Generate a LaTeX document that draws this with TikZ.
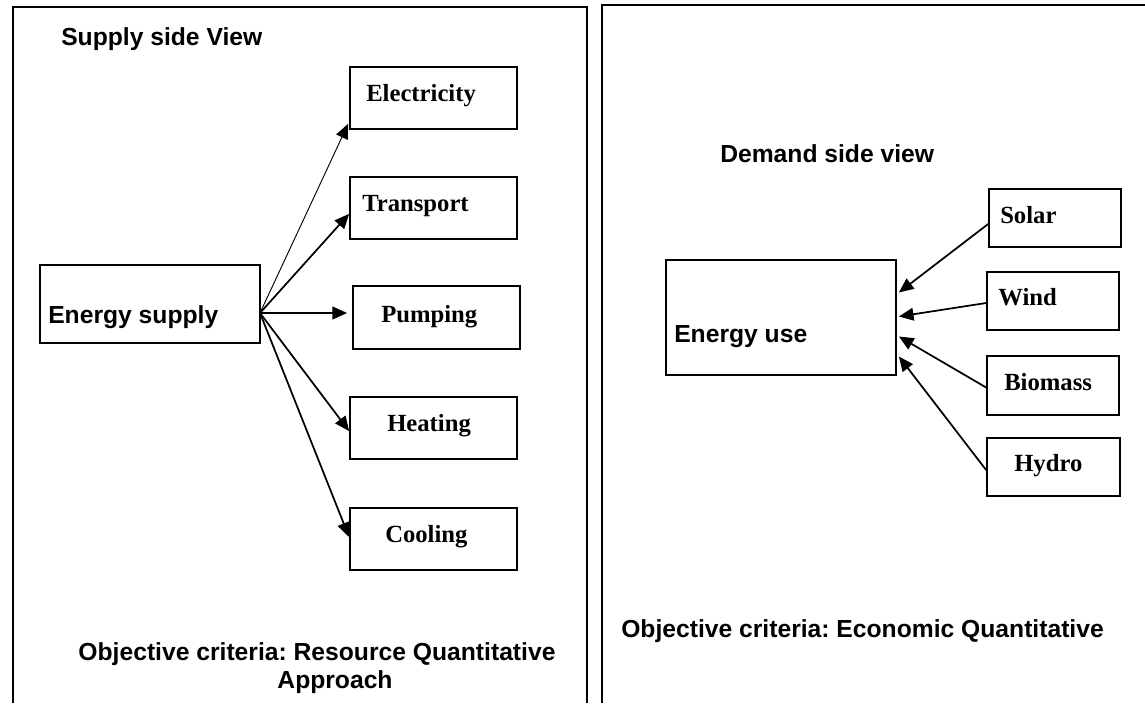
\documentclass[tikz,border=0pt]{standalone}
\usepackage{fontspec}
\setmainfont{Liberation Serif}
\newfontfamily\headfont{Liberation Sans}
\usetikzlibrary{arrows.meta,calc,fit}
\frenchspacing

\begin{document}
\begin{tikzpicture}[x=0.75pt,y=-0.75pt,
  box/.style={draw,line width=1.3pt,inner sep=0pt},
  boxtext/.style={font=\bfseries\fontsize{18.5}{22}\selectfont,inner sep=0pt,anchor=base west},
  headtext/.style={font=\headfont\bfseries\fontsize{18.5}{22}\selectfont,inner sep=0pt,anchor=base west},
  frame/.style={line width=1.3pt},
  arr/.style={line width=1.3pt,-{Triangle[length=11pt,width=9.5pt]}},
  thinarr/.style={line width=0.7pt,-{Triangle[length=11pt,width=9.5pt]}}]

\useasboundingbox (0,0) rectangle (1145,703);

% panel frames
\draw[frame] (13,703) -- (13,7) -- (587,7) -- (587,703);
\draw[frame] (602,703) -- (602,5) -- (1145,5);

% ---------- supply side ----------
\node[headtext] (suptitle) at (61,45) {Supply side View};

\node[box,fit={(40,265) (260,343)}] (es) {};
\node[headtext] (estext) at (48,323) {Energy supply};
\coordinate (src) at (260,313);

\node[box,fit={(350,67) (517,129)}]  (elec) {};
\node[box,fit={(350,177) (517,239)}] (trans) {};
\node[box,fit={(353,286) (520,349)}] (pump) {};
\node[box,fit={(350,397) (517,459)}] (heat) {};
\node[box,fit={(350,508) (517,570)}] (cool) {};

\node[boxtext] (electext)  at (366,101) {Electricity};
\node[boxtext] (transtext) at (362,211) {Transport};
\node[boxtext] (pumptext)  at (381,322) {Pumping};
\node[boxtext] (heattext)  at (387,431) {Heating};
\node[boxtext] (cooltext)  at (385,542) {Cooling};

\draw[thinarr] (src) -- ($(elec.south west)+(-1,-6)$);
\draw[arr] (src) -- ($(trans.south west)+(0,-26)$);
\draw[arr] (src) -- ($(pump.west |- src)+(-5,0)$);
\draw[arr] (src) -- ($(heat.north west)+(0,35)$);
\draw[arr] (src) -- ($(cool.north west)+(0,30)$);

\node[headtext,anchor=base] (supcrit1) at (317,660) {Objective criteria: Resource Quantitative};
\node[headtext,anchor=base] (supcrit2) at (335,688) {Approach};

% ---------- demand side ----------
\node[headtext] (demtitle) at (720,162) {Demand side view};

\node[box,fit={(666,260) (896,375)}] (eu) {};
\node[headtext] (eutext) at (674,342) {Energy use};

\node[box,fit={(989,189) (1121,247)}]  (solar) {};
\node[box,fit={(987,272) (1119,330)}]  (wind) {};
\node[box,fit={(987,356) (1119,415)}]  (bio) {};
\node[box,fit={(987,438) (1120,496)}]  (hydro) {};

\node[boxtext] (solartext) at (1000,223) {Solar};
\node[boxtext] (windtext)  at (998,305)  {Wind};
\node[boxtext] (biotext)   at (1004,390) {Biomass};
\node[boxtext] (hydrotext) at (1014,471) {Hydro};

\draw[arr] ($(solar.west)+(0,6)$) -- ($(eu.east)+(2,-25)$);
\draw[arr] ($(wind.west)+(0,2)$)  -- ($(eu.east)+(2,-1)$);
\draw[arr] ($(bio.west)+(0,2)$)   -- ($(eu.east)+(2,19)$);
\draw[arr] ($(hydro.west)+(0,3)$) -- ($(eu.east)+(2,39)$);

\node[headtext] (demcrit) at (621,637) {Objective criteria: Economic Quantitative};

\end{tikzpicture}
\end{document}
